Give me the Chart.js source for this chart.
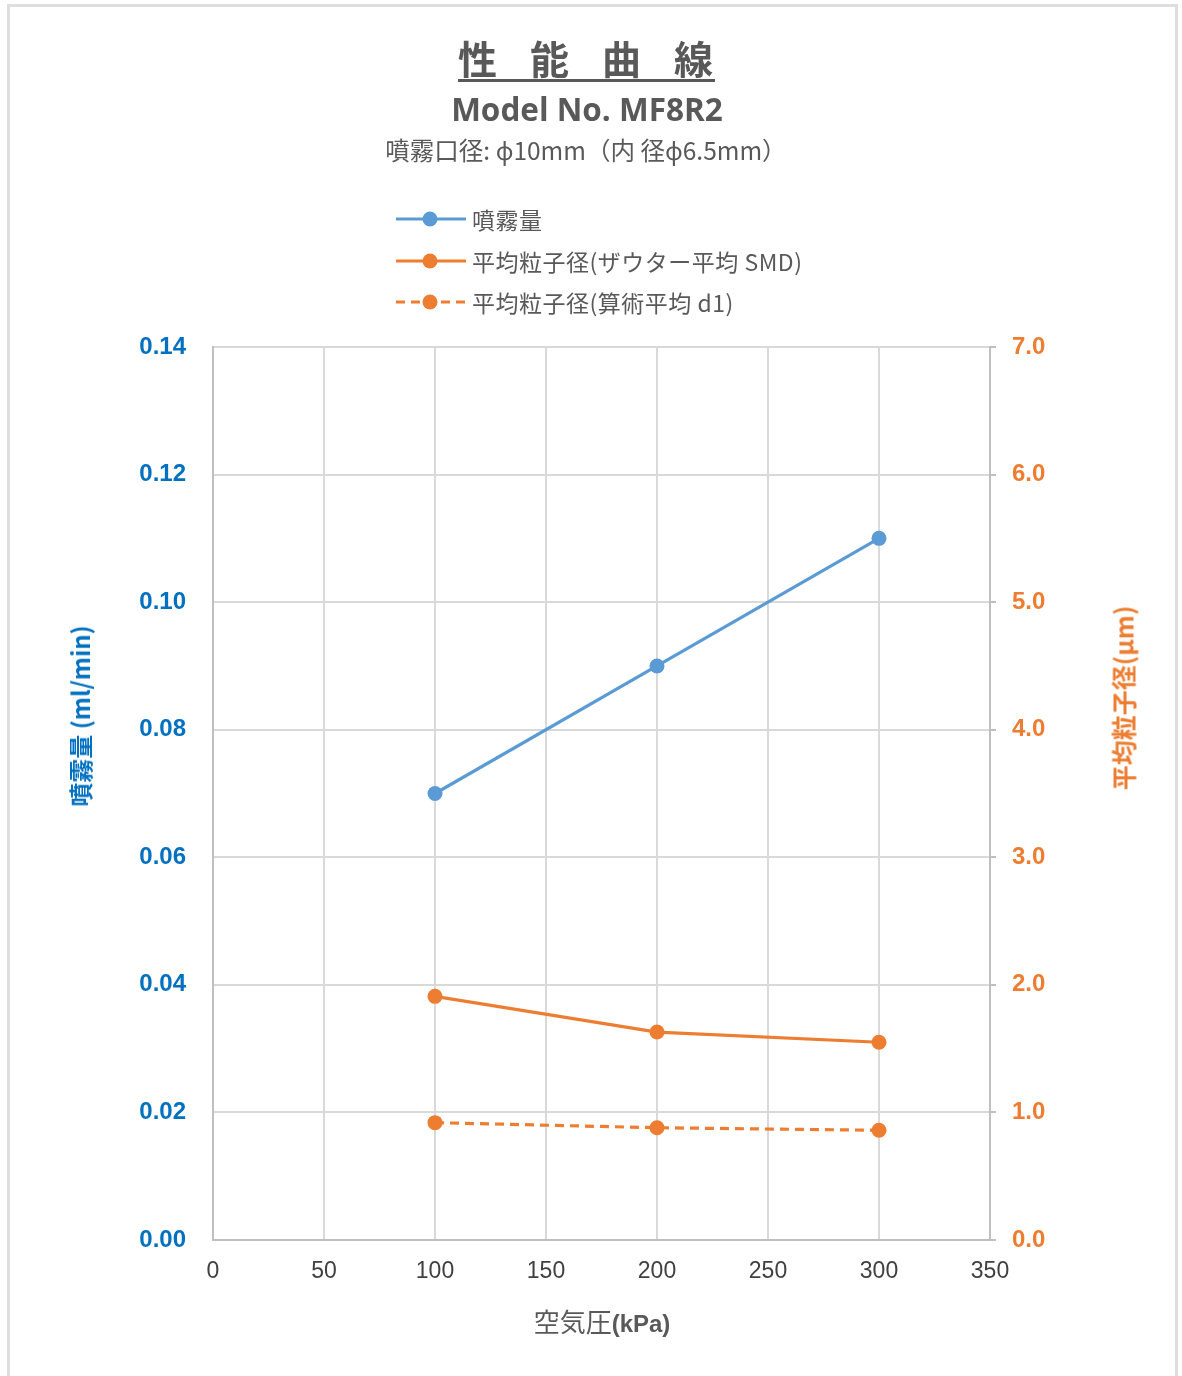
<!DOCTYPE html>
<html><head><meta charset="utf-8">
<script src="https://cdn.jsdelivr.net/npm/chart.js@4.4.1/dist/chart.umd.min.js"></script>
<style>
html,body{margin:0;padding:0;background:#fff}
body{width:1182px;height:1376px;position:relative;overflow:hidden;font-family:"Noto Sans CJK JP","Noto Sans",sans-serif;color:#595959}
#frame{position:absolute;left:7px;top:4px;width:1171px;height:1400px;border:3px solid #dedede;box-sizing:border-box}
#c{position:absolute;left:0;top:0}
.t{position:absolute;white-space:nowrap;line-height:1}
.legrow{position:absolute;left:396px;height:30px;display:flex;align-items:center;font-size:23px;color:#595959;letter-spacing:0.5px}
.legrow svg{margin-right:6px}
</style></head>
<body>
<div id="frame"></div>
<canvas id="c" width="1182" height="1376"></canvas>

<div class="t" id="title" style="left:458px;top:38px;font-size:39px;font-weight:700;letter-spacing:33px;color:#595959">性能曲線</div>
<div style="position:absolute;left:458px;top:79px;width:257px;height:3px;background:#595959"></div>
<div class="t" style="left:0;width:1174px;text-align:center;top:93px;font-family:'Open Sans','Noto Sans',sans-serif;font-size:31.5px;font-weight:700;color:#595959">Model No. MF8R2</div>
<div class="t" style="left:0;width:1172px;text-align:center;top:138px;font-size:24.5px;color:#595959">噴霧口径: ϕ10mm（内 径ϕ6.5mm）</div>

<div class="legrow" style="top:204px"><svg width="70" height="20"><line x1="0" y1="10" x2="70" y2="10" stroke="#5b9bd5" stroke-width="3"/><circle cx="34" cy="10" r="7.5" fill="#5b9bd5"/></svg><span>噴霧量</span></div>
<div class="legrow" style="top:246px"><svg width="70" height="20"><line x1="0" y1="10" x2="70" y2="10" stroke="#ed7d31" stroke-width="3"/><circle cx="34" cy="10" r="7.5" fill="#ed7d31"/></svg><span>平均粒子径(ザウター平均 SMD)</span></div>
<div class="legrow" style="top:287px"><svg width="70" height="20"><line x1="0" y1="10" x2="70" y2="10" stroke="#ed7d31" stroke-width="3" stroke-dasharray="9,6"/><circle cx="34" cy="10" r="7.5" fill="#ed7d31"/></svg><span>平均粒子径(算術平均 d1)</span></div>

<div class="t" style="left:80px;top:716px;transform:translate(-50%,-50%) rotate(-90deg);font-size:24px;font-weight:700;color:#0070c0">噴霧量 (ml/min)</div>
<div class="t" style="left:1123px;top:698px;transform:translate(-50%,-50%) rotate(-90deg);font-size:25px;font-weight:700;color:#ed7d31">平均粒子径(μm)</div>
<div class="t" style="left:602px;top:1322px;transform:translate(-50%,-50%);font-size:26px;color:#595959">空気圧<b style="font-family:'Liberation Sans',sans-serif;font-size:24px">(kPa)</b></div>

<script>
// ---- data ----
const pressures = [100, 200, 300];              // 空気圧 (kPa)
const sprayFlow = [0.07, 0.09, 0.11];           // 噴霧量 (ml/min)
const smdSize = [1.91, 1.63, 1.55];             // 平均粒子径 SMD (μm)
const d1Size = [0.92, 0.88, 0.86];              // 平均粒子径 d1 (μm)
const seriesNames = ['噴霧量', '平均粒子径(ザウター平均 SMD)', '平均粒子径(算術平均 d1)'];

const xRange = [0, 350, 50];
const leftRange = [0, 0.14, 0.02];
const rightRange = [0, 7, 1];

const toPts = (xs, ys) => xs.map((x, i) => ({x, y: ys[i]}));

const BLUE = '#5b9bd5', ORANGE = '#ed7d31';
const GRID = '#d9d9d9', AXIS = '#bfbfbf';

new Chart(document.getElementById('c'), {
  type: 'line',
  data: {
    datasets: [
      {label: seriesNames[0], data: toPts(pressures, sprayFlow), yAxisID: 'y',
       borderColor: BLUE, backgroundColor: BLUE, pointBackgroundColor: BLUE, pointBorderColor: BLUE,
       borderWidth: 3.2, pointRadius: 7.5, pointBorderWidth: 0, tension: 0},
      {label: seriesNames[1], data: toPts(pressures, smdSize), yAxisID: 'y2',
       borderColor: ORANGE, backgroundColor: ORANGE, pointBackgroundColor: ORANGE, pointBorderColor: ORANGE,
       borderWidth: 3.2, pointRadius: 7.5, pointBorderWidth: 0, tension: 0},
      {label: seriesNames[2], data: toPts(pressures, d1Size), yAxisID: 'y2',
       borderColor: ORANGE, backgroundColor: ORANGE, pointBackgroundColor: ORANGE, pointBorderColor: ORANGE,
       borderWidth: 3.2, borderDash: [9, 6], pointRadius: 7.5, pointBorderWidth: 0, tension: 0}
    ]
  },
  options: {
    responsive: false,
    animation: false,
    layout: {padding: {top: 347, left: 0, right: 0, bottom: 0}},
    plugins: {legend: {display: false}, title: {display: false}, tooltip: {enabled: false}},
    scales: {
      x: {
        type: 'linear', min: xRange[0], max: xRange[1],
        ticks: {stepSize: xRange[2], padding: 18, color: '#404040',
                font: {family: 'Liberation Sans', size: 23}},
        grid: {color: GRID, lineWidth: 2, drawTicks: false},
        border: {display: true, color: AXIS, width: 2},
        afterFit: s => { s.height = 136; }
      },
      y: {
        type: 'linear', position: 'left', min: leftRange[0], max: leftRange[1],
        ticks: {stepSize: leftRange[2], padding: 27, color: '#0070c0',
                font: {family: 'Liberation Sans', size: 24, weight: 'bold'},
                callback: v => v.toFixed(2)},
        grid: {color: GRID, lineWidth: 2, drawTicks: false},
        border: {display: true, color: AXIS, width: 2},
        afterFit: s => { s.width = 213; }
      },
      y2: {
        type: 'linear', position: 'right', min: rightRange[0], max: rightRange[1],
        ticks: {stepSize: rightRange[2], padding: 16, color: ORANGE,
                font: {family: 'Liberation Sans', size: 24, weight: 'bold'},
                callback: v => v.toFixed(1)},
        grid: {drawOnChartArea: false, drawTicks: true, tickLength: 6, color: AXIS, lineWidth: 2},
        border: {display: true, color: AXIS, width: 2},
        afterFit: s => { s.width = 192; }
      }
    }
  }
});
</script>
</body></html>
